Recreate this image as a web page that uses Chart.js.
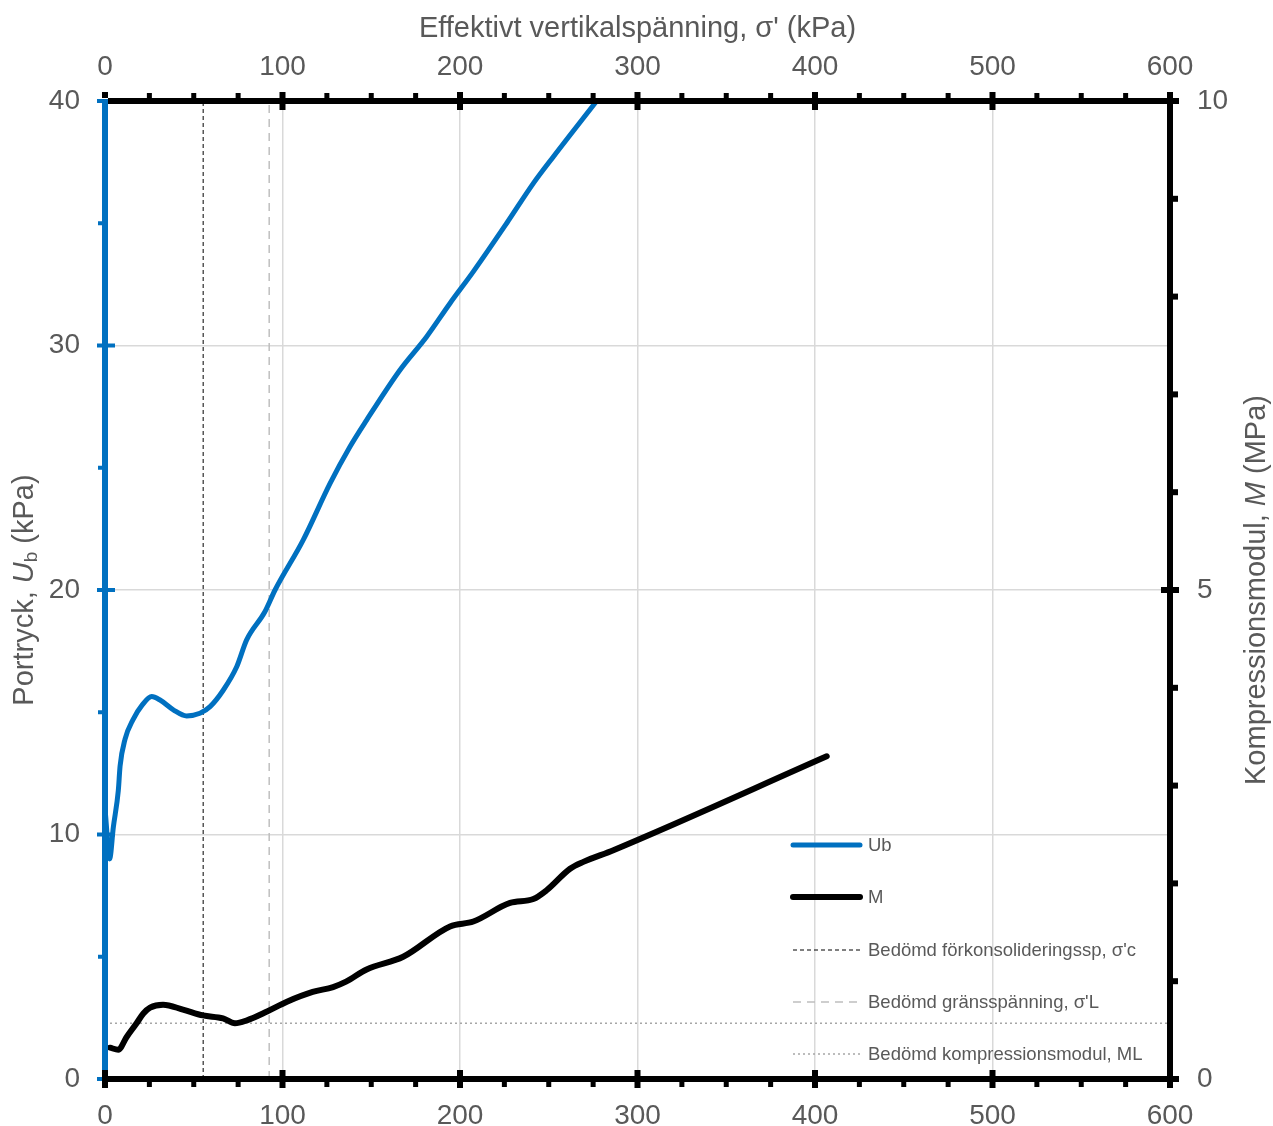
<!DOCTYPE html>
<html>
<head>
<meta charset="utf-8" />
<script src="https://cdn.jsdelivr.net/npm/chart.js"></script>
<style>
  html, body { margin: 0; padding: 0; background: #fff; }
  #wrap { width: 1273px; height: 1126px; }
</style>
</head>
<body>
<div id="wrap"><canvas id="chart" width="1273" height="1126"></canvas></div>
<script>
  // Effective vertical stress (kPa) vs pore pressure Ub (kPa)
  const ubStress = [0.3, 2.6, 4.7, 7.5, 8.5, 11.3, 15.8, 21.0, 26.3, 31.0, 38.5, 46.0, 53.5, 59.2, 66.6, 74.2, 79.8, 90.0, 95.8, 111.7, 126.8, 138.0, 147.4, 166.2, 181.2, 194.4, 207.5, 226.3, 241.3, 252.6, 277.0];
  const ubValues = [10.8, 9.0, 10.3, 11.8, 12.8, 13.9, 14.7, 15.3, 15.64, 15.5, 15.1, 14.85, 14.96, 15.23, 15.9, 16.86, 17.96, 19.1, 20.0, 22.05, 24.36, 25.86, 26.95, 29.0, 30.36, 31.73, 33.02, 35.0, 36.63, 37.72, 40.0];

  // Effective vertical stress (kPa) vs compression modulus M (MPa)
  const mStress = [2.8, 7.5, 12.2, 17.8, 21.6, 25.4, 32.7, 43.9, 55.2, 66.5, 73.2, 80.0, 91.3, 102.5, 117.0, 128.5, 135.8, 147.4, 168.0, 194.4, 207.5, 228.2, 241.3, 248.8, 262.0, 269.5, 286.4, 406.6];
  const mValues = [0.32, 0.30, 0.43, 0.57, 0.67, 0.73, 0.76, 0.71, 0.65, 0.62, 0.57, 0.60, 0.69, 0.79, 0.89, 0.94, 0.995, 1.12, 1.25, 1.56, 1.61, 1.80, 1.84, 1.93, 2.15, 2.22, 2.34, 3.30];

  // assessed values
  const sigmaC = 55.3;   // preconsolidation stress, kPa
  const sigmaL = 92.5;   // limit stress, kPa
  const mL = 0.57;       // compression modulus ML, MPa

  // tick labels
  const stressTicks = [0, 100, 200, 300, 400, 500, 600];
  const ubTicks = [0, 10, 20, 30, 40];
  const mTicks = [0, 5, 10];
  const stressMinorStep = 25;
  const ubMinorStep = 5;
  const mMinorStep = 1;

  const blue = '#0070C0';
  const textGray = '#595959';
  const font = "'Liberation Sans', Arial, sans-serif";

  function pts(xs, ys) {
    return xs.map((x, i) => ({ x: x, y: ys[i] }));
  }

  function fixTicks(list) {
    return function (scale) {
      scale.ticks = list.map((v) => ({ value: v }));
    };
  }

  // axis lines, tick marks, axis titles and legend
  const decor = {
    id: 'decor',
    afterDatasetsDraw(chart) {
      const ctx = chart.ctx;
      const a = chart.chartArea;
      const sx = chart.scales.x, sy = chart.scales.y, sy2 = chart.scales.y2;
      ctx.save();

      // blue left axis
      ctx.strokeStyle = blue;
      ctx.fillStyle = blue;
      ctx.lineWidth = 6;
      ctx.beginPath();
      ctx.moveTo(a.left, a.top - 2); ctx.lineTo(a.left, a.bottom);
      ctx.stroke();
      for (let v = 0; v <= 40; v += ubMinorStep) {
        const py = sy.getPixelForValue(v);
        if (ubTicks.includes(v)) {
          ctx.fillRect(a.left - 8, py - 2, 18, 4);
        } else {
          ctx.fillRect(a.left - 7, py - 2, 6, 4);
        }
      }

      // black frame (top, bottom, right)
      ctx.strokeStyle = '#000';
      ctx.lineWidth = 6;
      ctx.lineCap = 'butt';
      ctx.beginPath();
      ctx.moveTo(a.left + 3, a.top); ctx.lineTo(a.right + 3, a.top);
      ctx.moveTo(a.left - 2, a.bottom); ctx.lineTo(a.right + 3, a.bottom);
      ctx.moveTo(a.right, a.top); ctx.lineTo(a.right, a.bottom);
      ctx.stroke();

      ctx.fillStyle = '#000';
      // top / bottom ticks
      for (let v = 0; v <= 600; v += stressMinorStep) {
        const px = sx.getPixelForValue(v);
        if (stressTicks.includes(v)) {
          ctx.fillRect(px - 3, a.top - 9, 6, v === 0 ? 6 : 18);
          ctx.fillRect(px - 3, a.bottom - 9, 6, 18);
        } else {
          ctx.fillRect(px - 2.5, a.top - 8, 5, 6);
          ctx.fillRect(px - 2.5, a.bottom + 2, 5, 6);
        }
      }
      // right ticks
      for (let v = 0; v <= 10; v += mMinorStep) {
        const py = sy2.getPixelForValue(v);
        if (mTicks.includes(v)) {
          ctx.fillRect(a.right - 9, py - 3, 18, 6);
        } else {
          ctx.fillRect(a.right + 2, py - 3, 6, 6);
        }
      }

      // titles
      ctx.fillStyle = textGray;
      ctx.textBaseline = 'middle';
      drawRich(ctx, [
        { t: "Effektivt vertikalspänning, σ' (kPa)", f: '29px ' + font }
      ], (a.left + a.right) / 2, 29, 0);
      drawRich(ctx, [
        { t: 'Portryck, ', f: '29px ' + font },
        { t: 'U', f: 'italic 29px ' + font },
        { t: 'b', f: '19px ' + font, dy: 7 },
        { t: ' (kPa)', f: '29px ' + font }
      ], 25, (a.top + a.bottom) / 2, -Math.PI / 2);
      drawRich(ctx, [
        { t: 'Kompressionsmodul, ', f: '29px ' + font },
        { t: 'M', f: 'italic 29px ' + font },
        { t: ' (MPa)', f: '29px ' + font }
      ], 1257, (a.top + a.bottom) / 2, -Math.PI / 2);

      // legend
      const lx0 = 793, lx1 = 860, tx = 868;
      const rowY = [845, 897, 950, 1002, 1054];
      chart.data.datasets.forEach((ds, i) => {
        const y = rowY[i];
        ctx.save();
        ctx.strokeStyle = ds.borderColor;
        ctx.lineWidth = ds.borderWidth;
        ctx.setLineDash(ds.borderDash || []);
        ctx.lineCap = ds.borderDash ? 'butt' : 'round';
        ctx.beginPath();
        ctx.moveTo(lx0, y); ctx.lineTo(lx1, y);
        ctx.stroke();
        ctx.restore();
        ctx.fillStyle = textGray;
        ctx.font = '18.5px ' + font;
        ctx.textAlign = 'left';
        ctx.textBaseline = 'middle';
        ctx.fillText(ds.label, tx, y + 1);
      });

      ctx.restore();
    }
  };

  function drawRich(ctx, parts, cx, cy, rot) {
    ctx.save();
    ctx.translate(cx, cy);
    ctx.rotate(rot);
    let total = 0;
    parts.forEach((p) => { ctx.font = p.f; total += ctx.measureText(p.t).width; });
    let x = -total / 2;
    ctx.textAlign = 'left';
    ctx.textBaseline = 'middle';
    parts.forEach((p) => {
      ctx.font = p.f;
      ctx.fillText(p.t, x, p.dy || 0);
      x += ctx.measureText(p.t).width;
    });
    ctx.restore();
  }

  const tickFont = { family: font, size: 28 };

  new Chart(document.getElementById('chart'), {
    type: 'line',
    data: {
      datasets: [
        {
          label: 'Ub',
          data: pts(ubStress, ubValues),
          xAxisID: 'x', yAxisID: 'y',
          borderColor: blue, borderWidth: 5,
          pointRadius: 0, cubicInterpolationMode: 'monotone',
          borderCapStyle: 'round', borderJoinStyle: 'round'
        },
        {
          label: 'M',
          data: pts(mStress, mValues),
          xAxisID: 'x', yAxisID: 'y2',
          borderColor: '#000', borderWidth: 6,
          pointRadius: 0, cubicInterpolationMode: 'monotone',
          borderCapStyle: 'round', borderJoinStyle: 'round'
        },
        {
          label: "Bedömd förkonsolideringssp, σ'c",
          data: [{ x: sigmaC, y: 0 }, { x: sigmaC, y: 40 }],
          xAxisID: 'x', yAxisID: 'y',
          borderColor: '#000', borderWidth: 1, borderDash: [4, 3],
          pointRadius: 0
        },
        {
          label: "Bedömd gränsspänning, σ'L",
          data: [{ x: sigmaL, y: 0 }, { x: sigmaL, y: 40 }],
          xAxisID: 'x', yAxisID: 'y',
          borderColor: '#bfbfbf', borderWidth: 1.5, borderDash: [8, 6],
          pointRadius: 0
        },
        {
          label: 'Bedömd kompressionsmodul, ML',
          data: [{ x: 0, y: mL }, { x: 600, y: mL }],
          xAxisID: 'x', yAxisID: 'y2',
          borderColor: '#a6a6a6', borderWidth: 1.5, borderDash: [2, 3],
          pointRadius: 0
        }
      ]
    },
    options: {
      responsive: false,
      animation: false,
      events: [],
      layout: { padding: 0 },
      plugins: { legend: { display: false }, tooltip: { enabled: false } },
      scales: {
        x: {
          type: 'linear', position: 'bottom', min: 0, max: 600,
          afterBuildTicks: fixTicks(stressTicks),
          afterFit: (s) => { s.height = 47; },
          ticks: { font: tickFont, color: textGray, padding: 20, maxRotation: 0, autoSkip: false },
          grid: {
            drawTicks: false, lineWidth: 1.5,
            color: (c) => (c.tick && c.tick.value > 0 && c.tick.value < 600) ? '#d9d9d9' : 'rgba(0,0,0,0)'
          },
          border: { display: false }
        },
        x2: {
          type: 'linear', position: 'top', min: 0, max: 600,
          afterBuildTicks: fixTicks(stressTicks),
          afterFit: (s) => { s.height = 101; },
          ticks: { font: tickFont, color: textGray, padding: 17, maxRotation: 0, autoSkip: false },
          grid: { display: false, drawTicks: false },
          border: { display: false }
        },
        y: {
          type: 'linear', position: 'left', min: 0, max: 40,
          afterBuildTicks: fixTicks(ubTicks),
          afterFit: (s) => { s.width = 105; },
          ticks: { font: tickFont, color: textGray, padding: 25 },
          grid: {
            drawTicks: false, lineWidth: 1.5,
            color: (c) => (c.tick && c.tick.value > 0 && c.tick.value < 40) ? '#d9d9d9' : 'rgba(0,0,0,0)'
          },
          border: { display: false }
        },
        y2: {
          type: 'linear', position: 'right', min: 0, max: 10,
          afterBuildTicks: fixTicks(mTicks),
          afterFit: (s) => { s.width = 103; },
          ticks: { font: tickFont, color: textGray, padding: 27 },
          grid: { display: false, drawTicks: false },
          border: { display: false }
        }
      }
    },
    plugins: [decor]
  });
</script>
</body>
</html>
